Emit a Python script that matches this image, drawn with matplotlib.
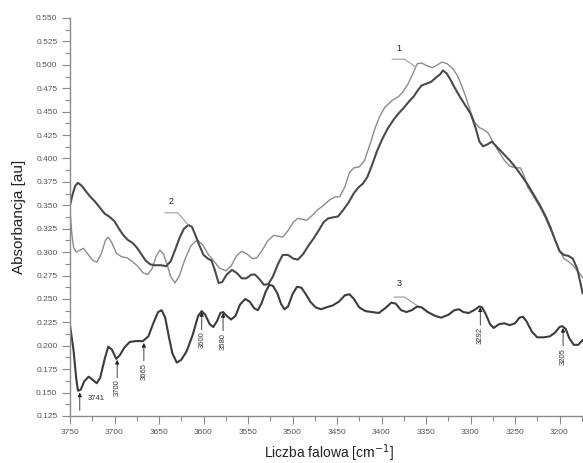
import matplotlib
matplotlib.use("Agg")
import matplotlib.pyplot as plt
from matplotlib.ticker import MultipleLocator, FormatStrFormatter

plt.rcParams['font.family'] = ['Liberation Sans', 'DejaVu Sans']

# ---- data ----
wn1 = [3750, 3748, 3746, 3743, 3739, 3735, 3730, 3725, 3720, 3715, 3710, 3707, 3703, 3698,
       3692, 3686, 3680, 3674, 3668, 3663, 3658, 3653, 3649, 3645, 3641, 3637, 3632, 3627,
       3621, 3614, 3607, 3601, 3595, 3588, 3582, 3575, 3569, 3563, 3557, 3551, 3545, 3540,
       3534, 3528, 3521, 3516, 3511, 3505, 3499, 3494, 3489, 3484, 3478, 3472, 3465, 3458,
       3452, 3447, 3441, 3436, 3431, 3425, 3419, 3413, 3407, 3402, 3396, 3388, 3381, 3376,
       3370, 3365, 3360, 3355, 3349, 3343, 3337, 3332, 3326, 3320, 3315, 3310, 3305, 3300,
       3295, 3290, 3284, 3280, 3275, 3268, 3262, 3256, 3250, 3244, 3240, 3236, 3229, 3222,
       3216, 3211, 3205, 3200, 3195, 3190, 3185, 3180, 3174]
ab1 = [0.345, 0.320, 0.305, 0.300, 0.302, 0.304, 0.298, 0.292, 0.289, 0.298, 0.313, 0.316, 0.310, 0.299,
       0.295, 0.294, 0.290, 0.285, 0.278, 0.276, 0.282, 0.296, 0.302, 0.298, 0.287, 0.274, 0.267, 0.275,
       0.292, 0.307, 0.313, 0.308, 0.298, 0.290, 0.283, 0.280, 0.285, 0.296, 0.301, 0.298, 0.293, 0.294,
       0.302, 0.312, 0.318, 0.317, 0.316, 0.323, 0.332, 0.336, 0.335, 0.334, 0.339, 0.345, 0.350, 0.356,
       0.359, 0.359, 0.370, 0.385, 0.390, 0.391, 0.398, 0.415, 0.433, 0.445, 0.455, 0.462, 0.466, 0.471,
       0.480, 0.490, 0.501, 0.502, 0.499, 0.497, 0.500, 0.503, 0.501, 0.496, 0.489, 0.478, 0.465, 0.450,
       0.438, 0.433, 0.430, 0.427, 0.418, 0.407, 0.398, 0.392, 0.390, 0.390, 0.382, 0.370, 0.359, 0.348,
       0.337, 0.326, 0.313, 0.302, 0.293, 0.290, 0.286, 0.280, 0.273]

wn2 = [3750, 3747, 3744, 3741, 3737, 3733, 3728, 3722, 3716, 3711, 3706, 3700, 3695, 3690,
       3685, 3680, 3675, 3670, 3665, 3660, 3655, 3648, 3642, 3637, 3632, 3627, 3622, 3617,
       3613, 3609, 3605, 3600, 3595, 3591, 3587, 3583, 3579, 3574, 3568, 3563, 3557, 3552,
       3546, 3542, 3537, 3532, 3527, 3522, 3516, 3511, 3505, 3499, 3494, 3488, 3482, 3476,
       3470, 3465, 3460, 3455, 3449, 3443, 3437, 3431, 3426, 3421, 3416, 3411, 3405, 3399,
       3393, 3386, 3380, 3375, 3369, 3364, 3359, 3355, 3349, 3344, 3338, 3334, 3331, 3327,
       3323, 3318, 3312, 3306, 3300, 3295, 3290, 3286, 3281, 3276, 3270, 3263, 3256, 3249,
       3243, 3237, 3230, 3222, 3216, 3210, 3205, 3200, 3195, 3190, 3185, 3180, 3176, 3174]
ab2 = [0.350, 0.362, 0.371, 0.374, 0.371, 0.366, 0.360, 0.354, 0.347, 0.341, 0.338, 0.333, 0.325, 0.318,
       0.313, 0.310, 0.305, 0.298, 0.291, 0.287, 0.286, 0.286, 0.285, 0.290, 0.302, 0.315, 0.325, 0.329,
       0.327, 0.318, 0.308, 0.297, 0.293, 0.291, 0.280, 0.267, 0.268, 0.276, 0.281, 0.278, 0.272, 0.272,
       0.276, 0.276, 0.271, 0.265, 0.266, 0.274, 0.288, 0.297, 0.297, 0.293, 0.292, 0.298, 0.307, 0.315,
       0.324, 0.332, 0.336, 0.337, 0.338, 0.345, 0.353, 0.363, 0.369, 0.373, 0.380, 0.392, 0.408, 0.421,
       0.432, 0.442, 0.449, 0.454, 0.461, 0.466, 0.473, 0.478, 0.480, 0.482, 0.487, 0.490, 0.494, 0.491,
       0.485, 0.476, 0.466, 0.457, 0.448, 0.435, 0.418, 0.413, 0.415, 0.418, 0.412, 0.405, 0.398, 0.390,
       0.382, 0.374, 0.363, 0.350, 0.339, 0.326, 0.313, 0.301, 0.297, 0.296, 0.293, 0.282, 0.265, 0.256]

wn3 = [3750, 3746, 3743, 3741, 3738, 3734, 3729, 3725, 3720, 3716, 3711, 3707, 3703, 3698,
       3694, 3689, 3683, 3676, 3668, 3662, 3656, 3651, 3647, 3643, 3639, 3635, 3630, 3625,
       3619, 3612, 3606, 3602, 3598, 3593, 3589, 3585, 3581, 3578, 3574, 3569, 3564, 3559,
       3553, 3548, 3543, 3539, 3535, 3530, 3526, 3522, 3517, 3513, 3509, 3505, 3500, 3495,
       3490, 3485, 3480, 3474, 3468, 3462, 3455, 3448, 3441, 3436, 3431, 3425, 3418, 3411,
       3403, 3396, 3389, 3384, 3378, 3372, 3366, 3360, 3355, 3348, 3340, 3333, 3325, 3318,
       3313, 3308, 3302, 3296, 3290, 3287, 3283, 3278, 3274, 3268, 3262, 3256, 3250, 3245,
       3241, 3237, 3231, 3225, 3218, 3211, 3205, 3200, 3197, 3193, 3189, 3184, 3179, 3174]
ab3 = [0.222, 0.195, 0.165, 0.152, 0.153, 0.162, 0.167, 0.164, 0.160, 0.166, 0.186, 0.199, 0.196, 0.186,
       0.190, 0.198, 0.204, 0.205, 0.205, 0.210, 0.225, 0.236, 0.238, 0.230, 0.210, 0.192, 0.182, 0.185,
       0.194, 0.212, 0.232, 0.237, 0.233, 0.223, 0.220, 0.226, 0.235, 0.236, 0.232, 0.228, 0.232, 0.244,
       0.250, 0.247, 0.240, 0.238, 0.245, 0.258, 0.265, 0.264, 0.256, 0.245, 0.239, 0.242, 0.255, 0.263,
       0.262, 0.255, 0.247, 0.241, 0.239, 0.241, 0.243, 0.247, 0.254, 0.255, 0.250, 0.241, 0.237, 0.236,
       0.235, 0.240, 0.246, 0.245, 0.238, 0.236, 0.238, 0.242, 0.241, 0.236, 0.232, 0.230, 0.233, 0.238,
       0.239, 0.236, 0.235, 0.238, 0.242, 0.241, 0.234, 0.223, 0.219, 0.223, 0.224, 0.222, 0.224, 0.230,
       0.231, 0.226, 0.215, 0.209, 0.209, 0.210, 0.214, 0.220, 0.221, 0.218, 0.208, 0.201, 0.201, 0.206]

# band markers on curve 3
band_labels = ['3741', '3700', '3665', '3600', '3580', '3292', '3205']
band_x = [3739, 3697, 3667, 3602, 3578, 3289, 3196]
band_tip = [0.150, 0.185, 0.203, 0.236, 0.235, 0.241, 0.219]

curve_labels = ['1', '2', '3']

fig = plt.figure(figsize=(5.83, 4.63), dpi=100)
ax = fig.add_axes([70/583, 47/463, 513/583, 398/463])

ax.plot(wn1, ab1, color='#8c8c8c', lw=1.0, solid_joinstyle='round')
ax.plot(wn2, ab2, color='#4a4a4a', lw=1.5, solid_joinstyle='round')
ax.plot(wn3, ab3, color='#3c3c3c', lw=1.5, solid_joinstyle='round')

ax.set_xlim(3750, 3173.6)
ax.set_ylim(0.125, 0.550)

ax.xaxis.set_major_locator(MultipleLocator(50))
ax.xaxis.set_minor_locator(MultipleLocator(25))
ax.yaxis.set_major_locator(MultipleLocator(0.025))
ax.yaxis.set_minor_locator(MultipleLocator(0.0125))
ax.yaxis.set_major_formatter(FormatStrFormatter('%.3f'))

for s in ['top', 'right']:
    ax.spines[s].set_visible(False)
for s in ['left', 'bottom']:
    ax.spines[s].set_color('#8a8a8a')
    ax.spines[s].set_linewidth(1.0)

ax.tick_params(axis='both', which='major', direction='out', length=6, width=0.8,
               color='#8a8a8a', labelsize=6, labelcolor='#555555', pad=3)
ax.tick_params(axis='both', which='minor', direction='out', length=3.5, width=0.8,
               color='#8a8a8a')

ax.set_xlabel('Liczba falowa [cm$^{-1}$]', fontsize=10, color='#222222')
ax.set_ylabel('Absorbancja [au]', fontsize=11, color='#222222')
ax.xaxis.set_label_coords(0.505, -0.066)
ax.yaxis.set_label_coords(-0.085, 0.5)

# curve labels with leader lines
lab_pos = [(3380, 0.5125), (3636, 0.349), (3380, 0.2615)]
lead = [[(3388, 3374, 3362), (0.506, 0.506, 0.498)],
        [(3643, 3629, 3617), (0.342, 0.342, 0.329)],
        [(3386, 3374, 3361), (0.252, 0.252, 0.2435)]]
for t, (lx, ly), (xs, ys) in zip(curve_labels, lab_pos, lead):
    ax.text(lx, ly, t, fontsize=6.5, ha='center', va='bottom', color='#222222')
    ax.plot(xs, ys, color='#9a9a9a', lw=0.8)

# band arrows
for i, (t, bx, tip) in enumerate(zip(band_labels, band_x, band_tip)):
    tail = tip - 0.019
    ax.annotate('', xy=(bx, tip), xytext=(bx, tail),
                arrowprops=dict(arrowstyle='-|>', color='#222222', lw=0.6,
                                mutation_scale=6, shrinkA=0, shrinkB=0))
    if i == 0:
        ax.text(bx - 9, tip - 0.006, t, fontsize=5.5, ha='left', va='center', color='#333333')
    else:
        ax.text(bx, tail - 0.002, t, fontsize=5.5, ha='center', va='top',
                rotation=90, color='#333333')

fig.savefig('out.png', dpi=100)
